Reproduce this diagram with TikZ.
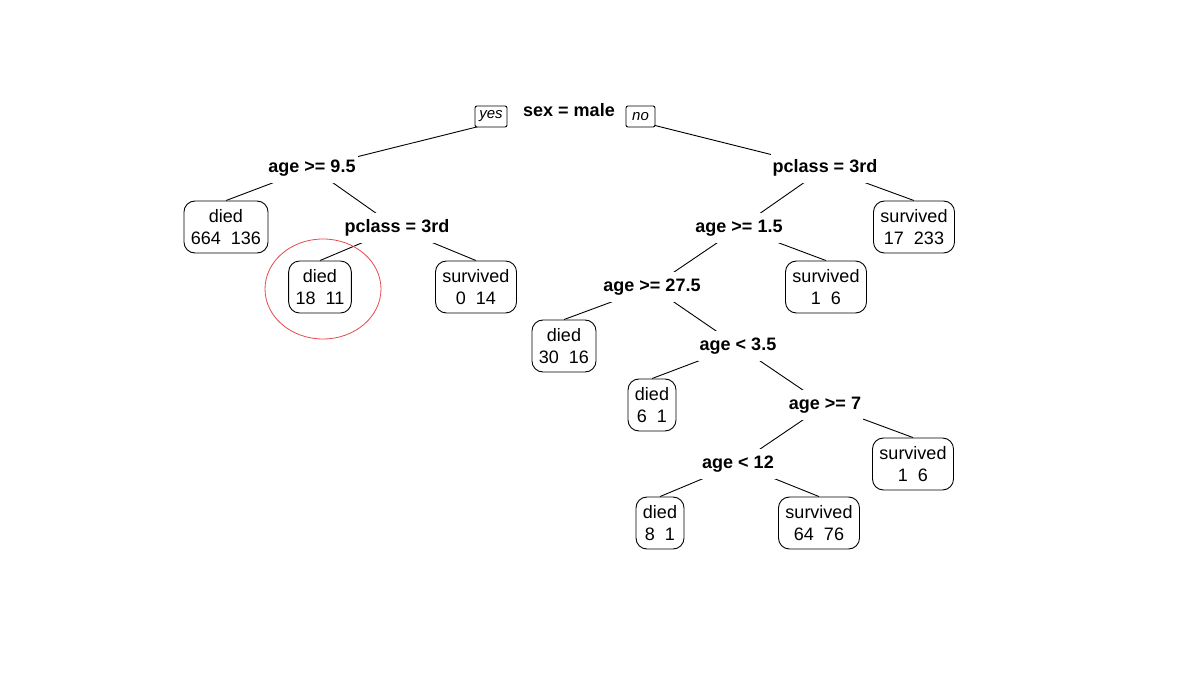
\documentclass[tikz,border=0pt]{standalone}
\usepackage{fontspec}
\setmainfont{Liberation Sans}
\usetikzlibrary{backgrounds}
\definecolor{treeink}{HTML}{000000}
\definecolor{circlered}{HTML}{E8474A}

\begin{document}
\begin{tikzpicture}[
  x=1pt,
  y=-1pt,
  every node/.style={font=\fontsize{18}{22}\selectfont, treeink},
  split/.style={font=\fontsize{18}{22}\selectfont\bfseries, fill=white,
    inner xsep=2pt, inner ysep=6.5pt},
  leaf/.style={draw, fill=white, rounded corners=11pt, align=center,
    inner xsep=7pt, inner ysep=4pt, minimum height=52pt, line width=0.9pt},
  tag/.style={draw, fill=white, rounded corners=2pt,
    font=\fontsize{15}{16}\selectfont\itshape, inner xsep=4pt,
    minimum height=21pt, line width=0.9pt},
  edge/.style={treeink, line width=0.9pt},
  highlight/.style={circlered, line width=0.8pt}
]
  % ---- page frame, same size as the screenshot ----
  \useasboundingbox (0,0) rectangle (1200,676);

  % ---- root ----
  \coordinate (rootpt) at (569,104);
  \node[split, inner xsep=18pt] (root) at (569,110) {sex = male};
  \node[tag, minimum width=32pt] (yes) at (491,116.5) {yes};
  \node[tag, minimum width=29pt] (no) at (640.5,116.5) {no};

  % ---- left side: age ----
  \node[split] (age95) at (312,168) {age >= 9.5};
  \node[leaf] (died664) at (226,227) {died\\664\ \ 136};
  \node[split] (pclassL) at (397,228) {pclass = 3rd};
  \node[leaf] (died18) at (320,287) {died\\18\ \ 11};
  \node[leaf] (surv0) at (476,287) {survived\\0\ \ 14};

  % ---- right side: pclass ----
  \node[split] (pclassR) at (825,168) {pclass = 3rd};
  \node[leaf] (surv17) at (914,227) {survived\\17\ \ 233};
  \node[split] (age15) at (739,228) {age >= 1.5};
  \node[leaf] (surv1a) at (826,287) {survived\\1\ \ 6};
  \node[split] (age275) at (652,287) {age >= 27.5};
  \node[leaf] (died30) at (564,346) {died\\30\ \ 16};
  \node[split] (age35) at (738,346) {age < 3.5};
  \node[leaf] (died6) at (652,405) {died\\6\ \ 1};
  \node[split] (age7) at (825,405) {age >= 7};
  \node[leaf] (surv1b) at (913,464) {survived\\1\ \ 6};
  \node[split] (age12) at (738,464) {age < 12};
  \node[leaf] (died8) at (660,523) {died\\8\ \ 1};
  \node[leaf] (surv64) at (819,523) {survived\\64\ \ 76};

  % ---- branches, kept behind the white labels ----
  \begin{scope}[on background layer]
    \draw[edge] (rootpt) -- (age95.center);
    \draw[edge] (rootpt) -- (pclassR.center);
    \draw[edge] (age95.center) -- (died664.north);
    \draw[edge] (age95.center) -- (pclassL.center);
    \draw[edge] (pclassL.center) -- (died18.north);
    \draw[edge] (pclassL.center) -- (surv0.north);
    \draw[edge] (pclassR.center) -- (age15.center);
    \draw[edge] (pclassR.center) -- (surv17.north);
    \draw[edge] (age15.center) -- (age275.center);
    \draw[edge] (age15.center) -- (surv1a.north);
    \draw[edge] (age275.center) -- (died30.north);
    \draw[edge] (age275.center) -- (age35.center);
    \draw[edge] (age35.center) -- (died6.north);
    \draw[edge] (age35.center) -- (age7.center);
    \draw[edge] (age7.center) -- (age12.center);
    \draw[edge] (age7.center) -- (surv1b.north);
    \draw[edge] (age12.center) -- (died8.north);
    \draw[edge] (age12.center) -- (surv64.north);
  \end{scope}

  % ---- red ring round the small leaf ----
  \draw[highlight] (died18.center) ++(3,2) ellipse [x radius=58, y radius=50];
\end{tikzpicture}
\end{document}
